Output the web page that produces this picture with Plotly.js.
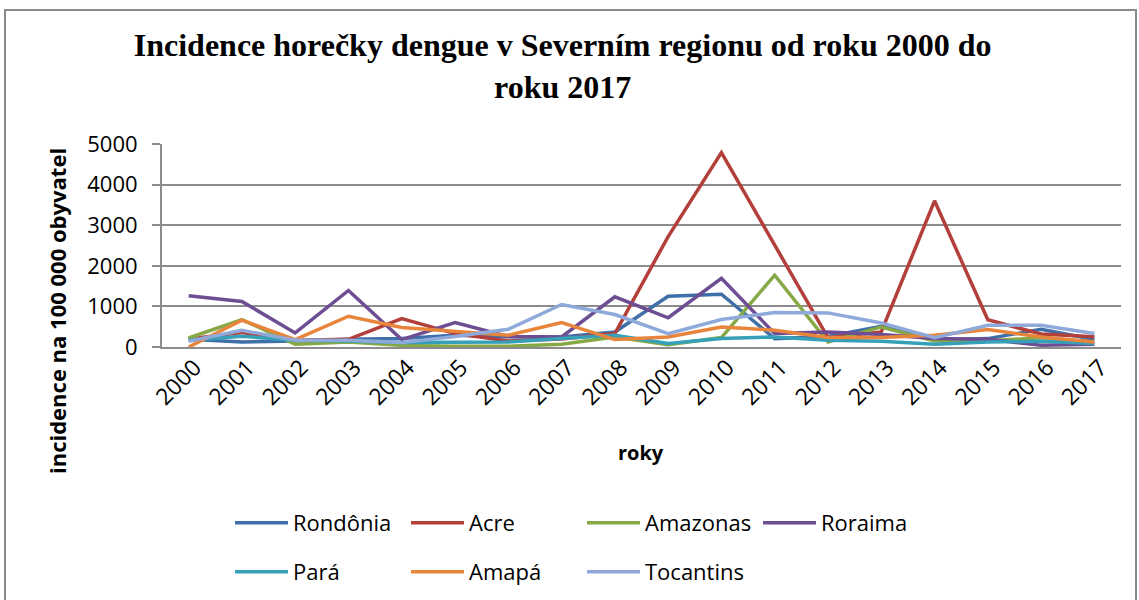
<!DOCTYPE html>
<html>
<head>
<meta charset="utf-8">
<script src="https://cdn.plot.ly/plotly-3.0.1.min.js"></script>
<style>
  html, body { margin: 0; padding: 0; background: #fff; }
  #wrap { position: relative; width: 1139px; height: 600px; overflow: hidden; }
  #chart { position: absolute; left: 0; top: 0; width: 1139px; height: 600px; }
  #frame { position: absolute; left: 4px; top: 9px; width: 1129px; height: 620px;
           border: 2px solid #8a8a8a; pointer-events: none; z-index: 5; }
</style>
</head>
<body>
<div id="wrap">
  <div id="chart"></div>
  <div id="frame"></div>
</div>
<script>
// ---- data ----
const years = ['2000','2001','2002','2003','2004','2005','2006','2007','2008',
               '2009','2010','2011','2012','2013','2014','2015','2016','2017'];

const rondonia  = [190, 124, 148, 190, 207, 290, 250, 247, 370, 1250, 1300, 207, 260, 510, 165, 207, 437, 183];
const acre      = [200, 355, 165, 190, 700, 330, 150, 200, 330, 2720, 4790, 2520, 230, 370, 3600, 670, 320, 250];
const amazonas  = [222, 676,  67, 124,  40,  17,  17,  67, 247,   58,  232, 1770, 124, 494, 148, 150, 230, 124];
const roraima   = [1260, 1120, 346, 1393, 183, 600, 260, 247, 1235, 720, 1690, 330, 370, 306, 207, 190, 45, 70];
const para      = [165, 264, 165, 150, 108, 124, 124, 207, 290,  84,  207,  247, 165, 140,  67, 124, 140,  84];
const amapa     = [  0, 660, 183, 758, 480, 388, 290, 600, 183, 247,  494,  412, 232, 232, 290, 430, 247, 124];
const tocantins = [140, 412, 165, 165, 108, 260, 437, 1047, 800, 330, 676,  850, 840, 593, 232, 536, 536, 330];

const seriesNames  = ['Rondônia','Acre','Amazonas','Roraima','Pará','Amapá','Tocantins'];
const seriesValues = [rondonia, acre, amazonas, roraima, para, amapa, tocantins];
const seriesColors = ['#3F6FA8','#B33F3B','#86A845','#6D4E92','#35A0B8','#E8853D','#8FAADA'];

const yTicks = [0, 1000, 2000, 3000, 4000, 5000];

const titleText = 'Incidence horečky dengue v Severním regionu od roku 2000 do<br>roku 2017';
const yTitleText = 'incidence na 100 000 obyvatel';
const xTitleText = 'roky';

const sans = 'Open Sans, Liberation Sans, sans-serif';

const traces = seriesNames.map((name, i) => ({
  type: 'scatter',
  mode: 'lines',
  name: name,
  x: years,
  y: seriesValues[i],
  line: { color: seriesColors[i], width: 3.5 },
  legend: i < 4 ? 'legend' : 'legend2'
}));

const legendCommon = {
  orientation: 'h',
  xref: 'container', yref: 'container',
  xanchor: 'left', yanchor: 'top',
  itemwidth: 53,
  entrywidth: 108, entrywidthmode: 'pixels',
  font: { family: sans, size: 22, color: '#000' },
  bgcolor: 'rgba(0,0,0,0)',
  traceorder: 'normal'
};

const layout = {
  width: 1139, height: 600,
  margin: { l: 162, r: 18, t: 144, b: 253 },
  paper_bgcolor: '#fff',
  plot_bgcolor: '#fff',
  showlegend: true,
  title: {
    text: titleText,
    font: { family: 'Liberation Serif, Times New Roman, serif', size: 32, color: '#000', weight: 700 },
    xref: 'container', yref: 'container',
    x: 0.494, xanchor: 'center',
    y: 1 - 56/600, yanchor: 'top'
  },
  xaxis: {
    type: 'category',
    range: [-0.5, 17.5],
    tickangle: -45,
    tickfont: { family: sans, size: 23, color: '#000' },
    ticklabelshift: 6,
    ticklabelstandoff: -4,
    showgrid: false,
    showline: true, linecolor: '#8c8c8c', linewidth: 2,
    ticks: '', zeroline: false
  },
  yaxis: {
    range: [0, 5000],
    tickvals: yTicks,
    ticktext: yTicks.map(String),
    tickfont: { family: sans, size: 22, color: '#000' },
    showgrid: true, gridcolor: '#8c8c8c', gridwidth: 2,
    showline: true, linecolor: '#8c8c8c', linewidth: 2,
    ticks: 'outside', ticklen: 8, tickcolor: '#8c8c8c', tickwidth: 2,
    ticklabelstandoff: 10,
    zeroline: false
  },
  legend: Object.assign({}, legendCommon, { x: 230/1139, y: 1 - 502/600 }),
  legend2: Object.assign({}, legendCommon, { x: 230/1139, y: 1 - 551/600 }),
  annotations: [
    {
      text: '<b>' + yTitleText + '</b>',
      xref: 'paper', yref: 'paper',
      x: (57 - 162) / (1121 - 162), y: (347 - 311) / (347 - 144),
      xanchor: 'center', yanchor: 'middle',
      textangle: -90, showarrow: false,
      font: { family: sans, size: 22, color: '#000' }
    },
    {
      text: '<b>' + xTitleText + '</b>',
      xref: 'paper', yref: 'paper',
      x: (641 - 162) / (1121 - 162), y: (347 - 452) / (347 - 144),
      xanchor: 'center', yanchor: 'middle',
      showarrow: false,
      font: { family: sans, size: 20, color: '#000' }
    }
  ]
};

Plotly.newPlot('chart', traces, layout, { displayModeBar: false, staticPlot: true });
</script>
</body>
</html>
